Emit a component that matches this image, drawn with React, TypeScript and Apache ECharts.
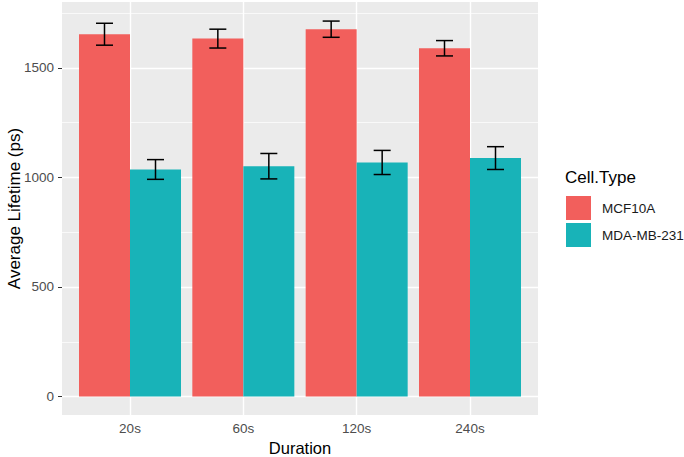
import React, { useEffect, useRef } from "react";
import * as echarts from "echarts";

const categories = ["20s", "60s", "120s", "240s"];
const categoryPositions = [1, 2, 3, 4];
const mcf10aMean = [1653, 1633, 1676, 1589];
const mcf10aErr = [50, 43, 37, 35];
const mdaMean = [1036, 1051, 1068, 1088];
const mdaErr = [45, 58, 55, 52];
const yMajorTicks = [0, 500, 1000, 1500];
const yMinorTicks = [250, 750, 1250, 1750];
const seriesNames = ["MCF10A", "MDA-MB-231"];

const RED = "#F25F5C";
const TEAL = "#18B3B8";
const FONT = "'Liberation Sans', Arial, sans-serif";
const DODGE = 0.45; // width of each bar in category units (ggplot dodge 0.9 / 2)

export default function App() {
  const ref = useRef<HTMLDivElement>(null);
  useEffect(() => {
    if (!ref.current) return;
    const chart = echarts.init(ref.current, undefined, { renderer: "svg" });

    const errData: number[][] = [];
    categoryPositions.forEach((x, i) => {
      errData.push([x, mcf10aMean[i] - mcf10aErr[i], mcf10aMean[i] + mcf10aErr[i], 0]);
      errData.push([x, mdaMean[i] - mdaErr[i], mdaMean[i] + mdaErr[i], 1]);
    });

    const gridLines: any[] = [
      ...yMajorTicks.map((v) => ({ yAxis: v, lineStyle: { color: "#fff", width: 1.4, type: "solid" } })),
      ...yMinorTicks.map((v) => ({ yAxis: v, lineStyle: { color: "#fff", width: 0.7, type: "solid" } })),
      ...categoryPositions.map((v) => ({ xAxis: v, lineStyle: { color: "#fff", width: 1.4, type: "solid" } })),
    ];

    const barRender = (group: number) => (params: any, api: any) => {
      const x = api.value(0);
      const y = api.value(1);
      const x0 = x + (group === 0 ? -DODGE : 0);
      const pTL = api.coord([x0, y]);
      const pBR = api.coord([x0 + DODGE, 0]);
      return {
        type: "rect",
        shape: { x: pTL[0], y: pTL[1], width: pBR[0] - pTL[0], height: pBR[1] - pTL[1] },
        style: { fill: group === 0 ? RED : TEAL },
      };
    };

    const option: any = {
      animation: false,
      backgroundColor: "#fff",
      textStyle: { fontFamily: FONT },
      title: {
        text: "Cell.Type",
        left: 565,
        top: 169,
        padding: 0,
        textStyle: { fontSize: 17, fontWeight: "normal", color: "#000", fontFamily: FONT },
      },
      legend: {
        orient: "vertical",
        left: 566,
        top: 196,
        padding: 0,
        itemWidth: 25,
        itemHeight: 24,
        itemGap: 3,
        icon: "rect",
        data: seriesNames,
        textStyle: { fontSize: 13.5, color: "#1a1a1a", fontFamily: FONT, padding: [0, 0, 0, 6] },
      },
      grid: {
        left: 62,
        top: 2,
        width: 476,
        height: 413,
        show: true,
        backgroundColor: "#EBEBEB",
        borderWidth: 0,
        containLabel: false,
        outerBoundsMode: "none",
      },
      xAxis: {
        type: "value",
        min: 0.4,
        max: 4.6,
        name: "Duration",
        nameLocation: "middle",
        nameGap: 24,
        nameMoveOverlap: false,
        nameTextStyle: { fontSize: 16.5, color: "#000", fontFamily: FONT },
        axisLine: { show: false },
        splitLine: { show: false },
        axisTick: { show: true, length: 4, customValues: categoryPositions, lineStyle: { color: "#333" } },
        axisLabel: {
          customValues: categoryPositions,
          formatter: (v: number) => categories[Math.round(v) - 1] ?? "",
          color: "#4D4D4D",
          fontSize: 13.5,
          margin: 6,
          fontFamily: FONT,
        },
      },
      yAxis: {
        type: "value",
        min: -84,
        max: 1800,
        name: "Average Lifetime (ps)",
        nameLocation: "middle",
        nameRotate: 90,
        nameGap: 39,
        nameMoveOverlap: false,
        nameTextStyle: { fontSize: 17, color: "#000", fontFamily: FONT },
        axisLine: { show: false },
        splitLine: { show: false },
        axisTick: { show: true, length: 4, customValues: yMajorTicks, lineStyle: { color: "#333" } },
        axisLabel: {
          customValues: yMajorTicks,
          formatter: (v: number) => String(v),
          color: "#4D4D4D",
          fontSize: 13.5,
          margin: 8,
          fontFamily: FONT,
        },
      },
      series: [
        {
          type: "line",
          name: "__grid",
          data: [],
          silent: true,
          z: 1,
          markLine: {
            silent: true,
            z: 1,
            symbol: ["none", "none"],
            label: { show: false },
            data: gridLines,
          },
        },
        {
          type: "custom",
          name: seriesNames[0],
          data: categoryPositions.map((x, i) => [x, mcf10aMean[i]]),
          encode: { x: 0, y: 1 },
          itemStyle: { color: RED },
          renderItem: barRender(0),
          z: 2,
        },
        {
          type: "custom",
          name: seriesNames[1],
          data: categoryPositions.map((x, i) => [x, mdaMean[i]]),
          encode: { x: 0, y: 1 },
          itemStyle: { color: TEAL },
          renderItem: barRender(1),
          z: 2,
        },
        {
          type: "custom",
          name: "__err",
          data: errData,
          encode: { x: 0, y: [1, 2] },
          z: 5,
          silent: true,
          renderItem: (params: any, api: any) => {
            const x = api.value(0);
            const lo = api.value(1);
            const hi = api.value(2);
            const g = api.value(3);
            const xc = x + (g === 0 ? -DODGE / 2 : DODGE / 2);
            const pTop = api.coord([xc, hi]);
            const pBot = api.coord([xc, lo]);
            const cl = api.coord([xc - 0.075, hi])[0];
            const cr = api.coord([xc + 0.075, hi])[0];
            const style = { stroke: "#000", lineWidth: 1.5 };
            return {
              type: "group",
              children: [
                { type: "line", shape: { x1: pTop[0], y1: pTop[1], x2: pBot[0], y2: pBot[1] }, style },
                { type: "line", shape: { x1: cl, y1: pTop[1], x2: cr, y2: pTop[1] }, style },
                { type: "line", shape: { x1: cl, y1: pBot[1], x2: cr, y2: pBot[1] }, style },
              ],
            };
          },
        },
      ],
    };
    chart.setOption(option);
    return () => chart.dispose();
  }, []);
  return (
    <div
      ref={ref}
      style={{ position: "fixed", left: 0, top: 0, width: 684, height: 457, background: "#fff" }}
    />
  );
}
